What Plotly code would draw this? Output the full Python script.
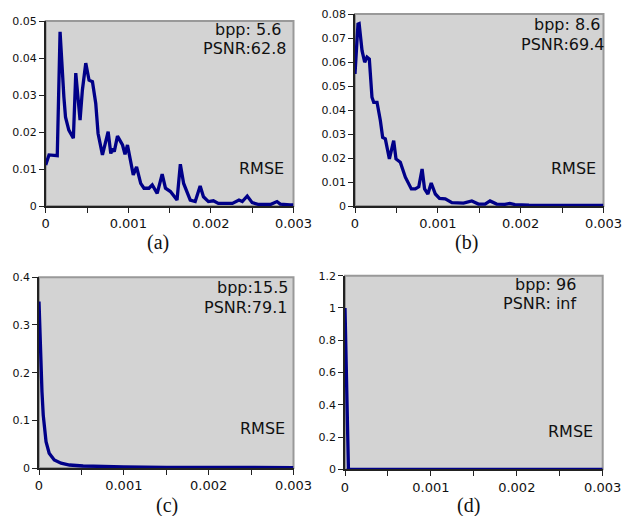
import plotly.graph_objects as go

W, H = 628, 516

# ---------------- data ----------------
a_x = [0, 0.00004, 0.00014, 0.000174, 0.00022, 0.00024, 0.00028, 0.000335, 0.000364, 0.000416,
       0.000444, 0.000485, 0.000525, 0.000566, 0.000606, 0.000634, 0.000687, 0.000756, 0.000788, 0.00081,
       0.00083, 0.000869, 0.00093, 0.00096, 0.00099, 0.00106, 0.0011, 0.00115, 0.00119, 0.00125,
       0.00129, 0.00135, 0.00141, 0.00145, 0.00151, 0.00159, 0.00163, 0.00167, 0.00175, 0.00181,
       0.00187, 0.00191, 0.00197, 0.00203, 0.00209, 0.00219, 0.00226, 0.00234, 0.00238, 0.00244,
       0.0025, 0.00258, 0.00266, 0.00272, 0.0028, 0.00284, 0.00296, 0.003]
a_y = [0.0111, 0.0138, 0.0136, 0.0471, 0.0295, 0.024, 0.0205, 0.0183, 0.0359, 0.0232,
       0.0313, 0.0386, 0.034, 0.0336, 0.0277, 0.0196, 0.0138, 0.0201, 0.0142, 0.0155,
       0.0147, 0.0189, 0.0165, 0.014, 0.0165, 0.0084, 0.0106, 0.0061, 0.0048, 0.0048,
       0.0057, 0.0034, 0.0086, 0.0048, 0.0039, 0.0016, 0.0113, 0.0061, 0.0016, 0.0012,
       0.0054, 0.0025, 0.0012, 0.0014, 0.0007, 0.0007, 0.0007, 0.0016, 0.0012, 0.0027,
       0.0009, 0.0004, 0.0004, 0.0004, 0.0012, 0.0005, 0.0003, 0.0003]

b_x = [0, 0.000036, 0.00005, 0.000085, 0.000117, 0.000145, 0.000173, 0.000205, 0.000226, 0.000266,
       0.000306, 0.000334, 0.000366, 0.000415, 0.000467, 0.000495, 0.000547, 0.000608, 0.00068, 0.000728,
       0.00077, 0.00081, 0.00084, 0.00088, 0.00092, 0.00097, 0.00102, 0.00109, 0.00117, 0.00131,
       0.00141, 0.00149, 0.00157, 0.00163, 0.00171, 0.00181, 0.00187, 0.00193, 0.0021, 0.00228,
       0.00244, 0.0026, 0.0029, 0.003]
b_y = [0.055, 0.0758, 0.076, 0.0647, 0.0599, 0.062, 0.0612, 0.0453, 0.0432, 0.0432,
       0.0356, 0.0286, 0.028, 0.0196, 0.0272, 0.0196, 0.0182, 0.012, 0.0071, 0.0071,
       0.008, 0.0154, 0.0071, 0.005, 0.0096, 0.005, 0.0032, 0.003, 0.0014, 0.0012,
       0.0021, 0.0008, 0.0008, 0.0021, 0.0008, 0.0007, 0.0011, 0.0006, 0.0004, 0.0004,
       0.0005, 0.0003, 0.0003, 0.0002]

c_x = [0, 0.000012, 0.000035, 0.00005, 0.000083, 0.00012, 0.00018, 0.00026, 0.00036, 0.00052,
       0.00075, 0.001, 0.0015, 0.002, 0.0025, 0.003]
c_y = [0.349, 0.265, 0.16, 0.111, 0.055, 0.031, 0.017, 0.01, 0.0063, 0.0042,
       0.003, 0.0022, 0.0015, 0.0012, 0.001, 0.0008]

d_x = [0, 0.00004, 0.001, 0.002, 0.003]
d_y = [1.0, 0.0, 0.0, 0.0, 0.0]

y_ranges = [[0, 0.05], [0, 0.08], [0, 0.4], [0, 1.2]]
y_dticks = [0.01, 0.01, 0.1, 0.2]
x_range = [0, 0.003]

bpp_labels = ["bpp: 5.6", "bpp: 8.6", "bpp:15.5", "bpp: 96"]
psnr_labels = ["PSNR:62.8", "PSNR:69.4", "PSNR:79.1", "PSNR: inf"]
metric_label = "RMSE"
captions = ["(a)", "(b)", "(c)", "(d)"]

series = [(a_x, a_y), (b_x, b_y), (c_x, c_y), (d_x, d_y)]

# ---------------- layout geometry (pixels) ----------------
# (left, right, top, bottom) of each plot area
boxes = [(45.7, 293.5, 21, 206), (355, 603.5, 14, 206),
         (39, 293.5, 277.3, 468), (345, 602.7, 275.7, 469.3)]
# right edges and centre y of text blocks
bpp_pos = [(283, 29.8), (601.5, 25), (289.5, 287.7), (578, 284.3)]
psnr_pos = [(288, 49), (606, 44), (288.5, 307), (578, 303.5)]
rmse_pos = [(285.5, 168.3), (597.5, 168), (286.5, 428), (594.5, 431.3)]
cap_pos = [(157.7, 243), (466.7, 243), (166.7, 505), (468.3, 505)]

def px(x):
    return x / W

def py(y):
    return 1 - y / H

fig = go.Figure()
layout = dict(width=W, height=H, margin=dict(l=0, r=0, t=0, b=0, autoexpand=False),
              paper_bgcolor="white", plot_bgcolor="#d3d3d3", showlegend=False,
              font=dict(family="DejaVu Sans", color="#111"))
annotations = []
shapes = []
for i, ((xs, ys), (l, r, t, b)) in enumerate(zip(series, boxes)):
    n = "" if i == 0 else str(i + 1)
    fig.add_trace(go.Scatter(x=xs, y=ys, mode="lines", xaxis="x" + n, yaxis="y" + n,
                             line=dict(color="#000088", width=3.3), hoverinfo="skip"))
    layout["xaxis" + n] = dict(domain=[px(l), px(r)], anchor="y" + n, range=x_range,
                               automargin=False,
                               showgrid=False, zeroline=False, showline=True,
                               linecolor="#222", linewidth=1.5,
                               ticks="outside", ticklen=5, tickwidth=1, tickcolor="#222",
                               dtick=0.001, tick0=0,
                               minor=dict(dtick=0.0005, tick0=0, ticks="outside", ticklen=5,
                                          tickcolor="#222", showgrid=False),
                               tickfont=dict(size=13, family="DejaVu Sans", color="#111"))
    layout["yaxis" + n] = dict(domain=[py(b), py(t)], anchor="x" + n, range=y_ranges[i],
                               automargin=False,
                               showgrid=False, zeroline=False, showline=True,
                               linecolor="#222", linewidth=1.5,
                               ticks="outside", ticklen=5, tickwidth=1, tickcolor="#222",
                               dtick=y_dticks[i], tick0=0,
                               tickfont=dict(size=11, family="DejaVu Sans", color="#111"))
    shapes.append(dict(type="rect", xref="x" + n + " domain", yref="y" + n + " domain",
                       x0=0, x1=1, y0=0, y1=1, line=dict(color="#999", width=2),
                       fillcolor="rgba(0,0,0,0)", layer="below"))
    for text, (xr, yc) in [(bpp_labels[i], bpp_pos[i]), (psnr_labels[i], psnr_pos[i]),
                           (metric_label, rmse_pos[i])]:
        annotations.append(dict(text=text, x=px(xr), y=py(yc), xref="paper", yref="paper",
                                xanchor="right", yanchor="middle", showarrow=False,
                                font=dict(size=16, family="DejaVu Sans", color="#111")))
    cx, cy = cap_pos[i]
    annotations.append(dict(text=captions[i], x=px(cx), y=py(cy), xref="paper", yref="paper",
                            xanchor="center", yanchor="middle", showarrow=False,
                            font=dict(size=20, family="Liberation Serif", color="#111")))

layout["annotations"] = annotations
layout["shapes"] = shapes
fig.update_layout(**layout)
fig.write_html("out.html", config={"displayModeBar": False},
               post_script="document.body.style.margin='0';document.body.style.padding='0';")
